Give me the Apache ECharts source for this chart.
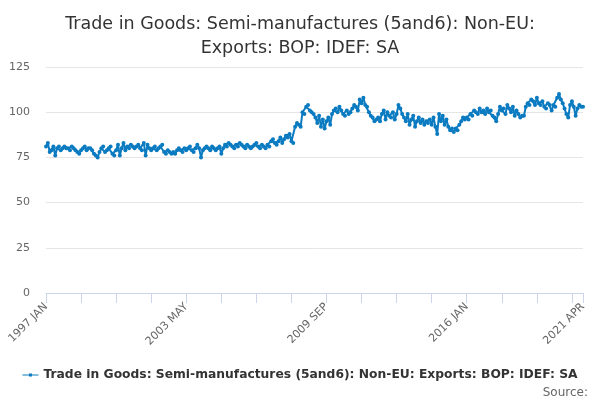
<!DOCTYPE html>
<html>
<head>
<meta charset="utf-8">
<script src="https://cdn.jsdelivr.net/npm/echarts@6/dist/echarts.min.js"></script>
<style>
  html, body { margin: 0; padding: 0; background: #fff; }
  #main { width: 600px; height: 400px; }
</style>
</head>
<body>
<div id="main"></div>
<script>
var seriesName = 'Trade in Goods: Semi-manufactures (5and6): Non-EU: Exports: BOP: IDEF: SA';
var startYear = 1997;
var monthNames = ['JAN','FEB','MAR','APR','MAY','JUN','JUL','AUG','SEP','OCT','NOV','DEC'];
var yTicks = [0, 25, 50, 75, 100, 125];

// monthly values, 1997 JAN .. 2021 APR
var values = [
  81, 83, 78, 79, 81, 76, 80, 81, 79, 80, 81, 80,      // 1997
  80, 79, 81, 80, 79, 78, 77, 79, 80, 81, 79, 80,      // 1998
  80, 79, 77, 76, 75, 78, 80, 81, 78, 79, 80, 81,      // 1999
  77, 76, 79, 82, 76, 80, 83, 79, 81, 80, 82, 81,      // 2000
  80, 81, 82, 80, 79, 83, 76, 82, 80, 79, 80, 81,      // 2001
  79, 80, 81, 82, 78, 77, 79, 78, 77, 78, 77, 79,      // 2002
  80, 79, 78, 80, 79, 80, 81, 79, 78, 80, 82, 80,      // 2003
  75, 79, 80, 81, 80, 79, 81, 80, 79, 80, 81, 77,      // 2004
  80, 82, 81, 83, 82, 81, 80, 82, 81, 83, 82, 81,      // 2005
  80, 82, 81, 80, 81, 82, 83, 81, 80, 82, 81, 80,      // 2006
  82, 81, 84, 85, 83, 82, 84, 86, 83, 85, 87, 86,      // 2007
  88, 84, 83, 92, 94, 93, 92, 100, 99, 103, 104, 101,  // 2008
  100, 99, 97, 94, 98, 92, 96, 91, 95, 97, 93, 99,     // 2009
  101, 102, 100, 103, 101, 99, 98, 101, 99, 100, 102, 104, // 2010
  103, 101, 107, 105, 108, 104, 103, 100, 98, 97, 95, 96,  // 2011
  97, 95, 99, 101, 96, 100, 98, 97, 100, 96, 99, 104,  // 2012
  102, 99, 97, 95, 99, 93, 96, 98, 92, 95, 97, 94,     // 2013
  96, 93, 95, 94, 96, 93, 97, 92, 88, 99, 95, 98,      // 2014
  93, 96, 92, 90, 91, 89, 91, 90, 93, 95, 97, 96,      // 2015
  97, 96, 99, 98, 101, 100, 99, 102, 100, 101, 99, 102, // 2016
  100, 101, 98, 97, 95, 99, 103, 101, 102, 99, 104, 102, // 2017
  100, 103, 98, 101, 99, 97, 98, 98, 103, 105, 104, 107, // 2018
  106, 104, 108, 105, 104, 106, 103, 102, 105, 104, 101, 104, // 2019
  103, 108, 110, 107, 105, 102, 99, 97, 104, 106, 103, 98,    // 2020
  102, 104, 103, 103                                   // 2021
];

var categories = [];
for (var i = 0; i < values.length; i++) {
  var y = startYear + Math.floor(i / 12);
  categories.push(y + ' ' + monthNames[i % 12]);
}
var lastIdx = categories.length - 1;

var myChart = echarts.init(document.getElementById('main'));
var option = {
  animation: false,
  backgroundColor: '#fff',
  title: {
    text: 'Trade in Goods: Semi-manufactures (5and6): Non-EU:\nExports: BOP: IDEF: SA',
    left: 'center',
    top: 7,
    textStyle: {
      fontFamily: 'DejaVu Sans',
      fontSize: 17.5,
      fontWeight: 'normal',
      color: '#333',
      lineHeight: 24
    }
  },
  legend: {
    bottom: 14,
    left: 'center',
    data: [seriesName],
    itemWidth: 16,
    itemHeight: 6,
    icon: 'path://M0,2.5 L16,2.5 L16,3.5 L0,3.5 Z M6.5,1.5 L9.5,1.5 L9.5,4.5 L6.5,4.5 Z',
    textStyle: {
      fontFamily: 'DejaVu Sans',
      fontSize: 12.3,
      fontWeight: 'bold',
      color: '#333'
    }
  },
  graphic: [{
    type: 'text',
    right: 12,
    bottom: 1,
    style: {
      text: 'Source:',
      fontFamily: 'DejaVu Sans',
      fontSize: 12,
      fill: '#666'
    }
  }],
  grid: {
    left: 46,
    right: 17,
    top: 67,
    bottom: 107
  },
  xAxis: {
    type: 'category',
    boundaryGap: false,
    data: categories,
    axisLine: { lineStyle: { color: '#ccd6eb', width: 1 } },
    axisTick: {
      length: 10,
      lineStyle: { color: '#ccd6eb' },
      interval: function (index) { return index % 19 === 0 || index === lastIdx; }
    },
    axisLabel: {
      rotate: 45,
      color: '#666',
      fontFamily: 'DejaVu Sans',
      fontSize: 11,
      margin: 12,
      showMaxLabel: true,
      interval: function (index) { return index % 76 === 0 || index === lastIdx; }
    },
    splitLine: { show: false }
  },
  yAxis: {
    type: 'value',
    min: yTicks[0],
    max: yTicks[yTicks.length - 1],
    interval: 25,
    axisLine: { show: false },
    axisTick: { show: false },
    axisLabel: {
      color: '#666',
      fontFamily: 'DejaVu Sans',
      fontSize: 11,
      margin: 16
    },
    splitLine: { lineStyle: { color: '#e6e6e6' } }
  },
  series: [{
    name: seriesName,
    type: 'line',
    data: values,
    color: '#0b7bc1',
    symbol: 'circle',
    symbolSize: 4,
    showAllSymbol: true,
    lineStyle: { width: 2, color: '#0b7bc1' },
    itemStyle: { color: '#0b7bc1' }
  }]
};
myChart.setOption(option);
</script>
</body>
</html>
